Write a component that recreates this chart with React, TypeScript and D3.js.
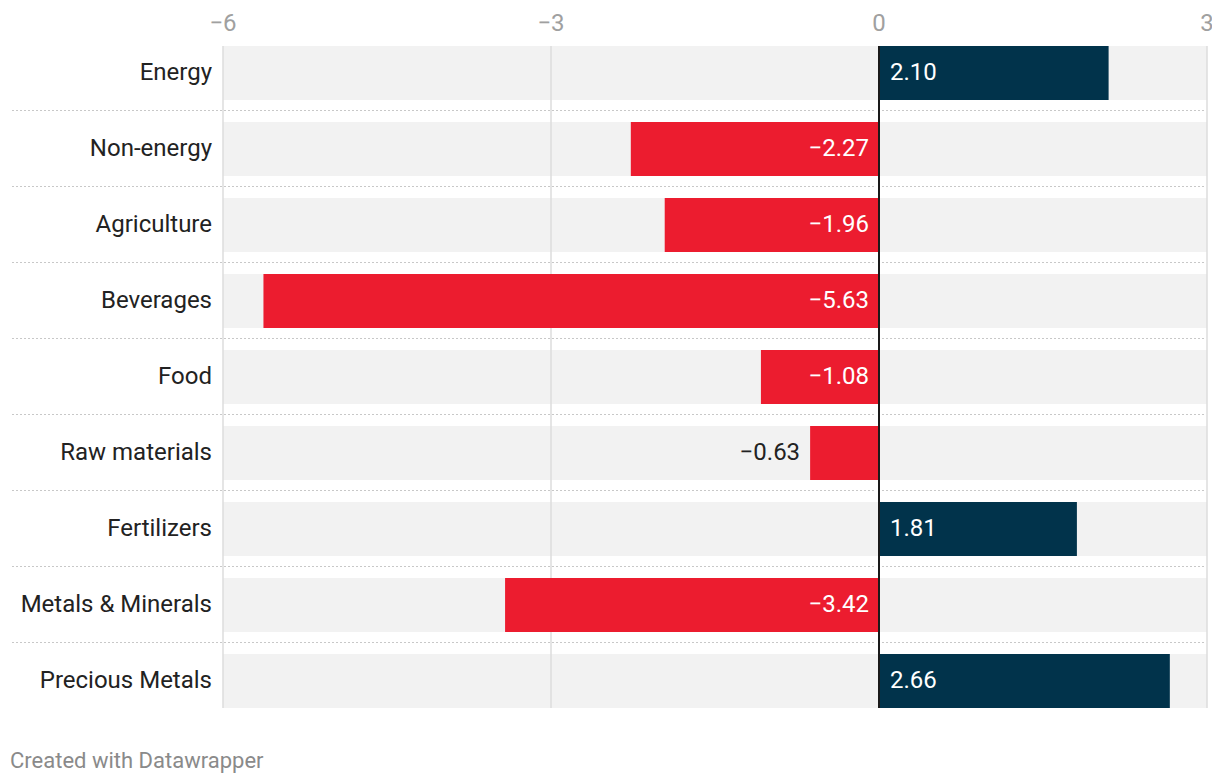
import React from "react";
import * as d3 from "d3";

const categories = [
  "Energy",
  "Non-energy",
  "Agriculture",
  "Beverages",
  "Food",
  "Raw materials",
  "Fertilizers",
  "Metals & Minerals",
  "Precious Metals",
];
const values = [2.1, -2.27, -1.96, -5.63, -1.08, -0.63, 1.81, -3.42, 2.66];
const ticks = [-6, -3, 0, 3];

const W = 1212;
const H = 784;
const FONT = "Roboto, 'Noto Sans', sans-serif";

export default function App() {
  const x = d3.scaleLinear().domain([-6, 3]).range([223, 1207]);
  const pitch = 76;
  const bandH = 54;
  const top0 = 46;
  const rowTop = (i: number) => top0 + i * pitch;
  const plotBottom = rowTop(categories.length - 1) + bandH;
  const x0 = x(0);
  const fmt = (v: number) => (v < 0 ? "\u2212" : "") + Math.abs(v).toFixed(2);
  const fs = 24;

  return (
    <svg
      width={W}
      height={H}
      style={{ position: "absolute", left: 0, top: 0, background: "#fff", overflow: "hidden" }}
      fontFamily={FONT}
    >
      {ticks.map((t) => (
        <text key={"t" + t} x={x(t)} y={31} fontSize={fs} fill="#a0a0a0" textAnchor="middle">
          {(t < 0 ? "\u2212" : "") + Math.abs(t)}
        </text>
      ))}
      {categories.map((c, i) => (
        <rect key={"bg" + c} x={x(-6)} y={rowTop(i)} width={x(3) - x(-6)} height={bandH} fill="#f2f2f2" />
      ))}
      {ticks
        .filter((t) => t !== 0)
        .map((t) => (
          <line key={"g" + t} x1={x(t)} x2={x(t)} y1={top0} y2={plotBottom} stroke="#dcdcdc" strokeWidth={1.5} />
        ))}
      {categories.slice(0, -1).map((c, i) => {
        const yy = rowTop(i) + bandH + 10.5;
        return (
          <g key={"s" + c}>
            <line x1={12} x2={x0 - 3} y1={yy} y2={yy} stroke="#c8c8c8" strokeWidth={1} strokeDasharray="2,2" />
            <line x1={x0 + 3} x2={1204} y1={yy} y2={yy} stroke="#c8c8c8" strokeWidth={1} strokeDasharray="2,2" />
          </g>
        );
      })}
      {categories.map((c, i) => {
        const v = values[i];
        const xa = Math.min(x(v), x0);
        const w = Math.abs(x(v) - x0);
        return (
          <rect key={"b" + c} x={xa} y={rowTop(i)} width={w} height={bandH} fill={v < 0 ? "#ec1c2f" : "#01334b"} />
        );
      })}
      <line x1={x0} x2={x0} y1={top0} y2={plotBottom} stroke="#1a1a1a" strokeWidth={2} />
      {categories.map((c, i) => (
        <text key={"l" + c} x={212} y={rowTop(i) + bandH / 2 + 7} fontSize={fs} fill="#222" textAnchor="end">
          {c}
        </text>
      ))}
      {categories.map((c, i) => {
        const v = values[i];
        const w = Math.abs(x(v) - x0);
        const yy = rowTop(i) + bandH / 2 + 7;
        if (v >= 0) {
          return (
            <text key={"v" + c} x={x0 + 11} y={yy} fontSize={fs} fill="#fff">
              {fmt(v)}
            </text>
          );
        }
        const inside = w > 80;
        return (
          <text
            key={"v" + c}
            x={inside ? x0 - 10 : x(v) - 10}
            y={yy}
            fontSize={fs}
            fill={inside ? "#fff" : "#222"}
            textAnchor="end"
          >
            {fmt(v)}
          </text>
        );
      })}
      <text x={10} y={768} fontSize={22} fill="#8a8a8a">
        Created with Datawrapper
      </text>
    </svg>
  );
}
